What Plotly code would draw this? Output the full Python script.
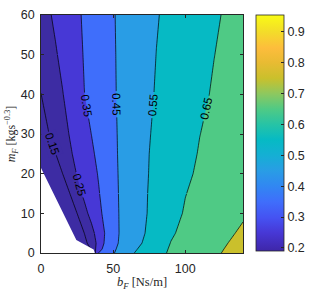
import math
import plotly.graph_objects as go

# ---- data ----
XS = [0, 5, 10, 15, 20, 25, 30, 35, 40, 45, 50, 55, 60, 65, 70, 75, 80, 90, 100, 110, 120, 130, 140]
YS = [0, 1, 2.5, 5, 10, 15, 20, 25, 30, 40, 50, 60]

Z_Y0   = [0.0, 0.0, 0.0, 0.0, 0.0, 0.0, 0.0, 0.13, 0.352, 0.397, 0.443, 0.481, 0.517, 0.552, 0.576, 0.600, 0.624, 0.661, 0.687, 0.712, 0.737, 0.763, 0.788]
Z_Y1   = [0.0, 0.0, 0.0, 0.0, 0.0, 0.0, 0.037, 0.163, 0.315, 0.388, 0.434, 0.472, 0.506, 0.540, 0.567, 0.592, 0.617, 0.658, 0.683, 0.708, 0.733, 0.758, 0.783]
Z_Y2_5 = [0.0, 0.0, 0.0, 0.0, 0.0, 0.047, 0.121, 0.194, 0.282, 0.374, 0.421, 0.462, 0.491, 0.521, 0.550, 0.576, 0.603, 0.652, 0.677, 0.702, 0.726, 0.751, 0.776]
Z_Y5   = [0.0, 0.0, 0.0, 0.0, 0.01, 0.079, 0.150, 0.221, 0.294, 0.362, 0.413, 0.458, 0.485, 0.512, 0.539, 0.565, 0.590, 0.641, 0.669, 0.692, 0.716, 0.739, 0.763]
Z_Y10  = [0.0, 0.0, 0.0, 0.01, 0.079, 0.150, 0.221, 0.280, 0.330, 0.376, 0.420, 0.458, 0.483, 0.508, 0.533, 0.557, 0.579, 0.622, 0.657, 0.678, 0.699, 0.720, 0.740]
Z_Y15  = [0.0, 0.0, 0.02, 0.083, 0.150, 0.217, 0.269, 0.307, 0.345, 0.385, 0.425, 0.459, 0.483, 0.507, 0.532, 0.555, 0.573, 0.611, 0.648, 0.669, 0.689, 0.708, 0.728]
Z_Y20  = [0.0, 0.042, 0.096, 0.150, 0.204, 0.255, 0.288, 0.322, 0.356, 0.392, 0.429, 0.460, 0.483, 0.507, 0.530, 0.552, 0.569, 0.603, 0.637, 0.661, 0.680, 0.699, 0.718]
Z_Y25  = [0.058, 0.103, 0.148, 0.193, 0.238, 0.274, 0.305, 0.337, 0.369, 0.401, 0.433, 0.461, 0.483, 0.505, 0.528, 0.550, 0.565, 0.596, 0.627, 0.655, 0.674, 0.693, 0.712]
Z_Y30  = [0.109, 0.146, 0.182, 0.219, 0.255, 0.287, 0.319, 0.351, 0.380, 0.408, 0.436, 0.461, 0.482, 0.504, 0.525, 0.547, 0.562, 0.591, 0.620, 0.649, 0.668, 0.687, 0.706]
Z_Y40  = [0.149, 0.182, 0.215, 0.247, 0.281, 0.315, 0.349, 0.372, 0.395, 0.418, 0.441, 0.462, 0.481, 0.500, 0.520, 0.539, 0.556, 0.582, 0.608, 0.634, 0.658, 0.677, 0.696]
Z_Y50  = [0.184, 0.213, 0.242, 0.271, 0.300, 0.328, 0.355, 0.377, 0.399, 0.421, 0.443, 0.462, 0.480, 0.498, 0.516, 0.533, 0.551, 0.575, 0.600, 0.625, 0.649, 0.669, 0.688]
Z_Y60  = [0.211, 0.239, 0.265, 0.289, 0.313, 0.337, 0.360, 0.381, 0.403, 0.424, 0.445, 0.463, 0.479, 0.496, 0.512, 0.529, 0.545, 0.570, 0.593, 0.617, 0.640, 0.661, 0.681]

Z = [Z_Y0, Z_Y1, Z_Y2_5, Z_Y5, Z_Y10, Z_Y15, Z_Y20, Z_Y25, Z_Y30, Z_Y40, Z_Y50, Z_Y60]

LEVELS = [0.15, 0.25, 0.35, 0.45, 0.55, 0.65, 0.75]
LEVEL_STEP = 0.1

# boundary of the infeasible (blank) region
MASK_X = [0, 0, 24.5, 36.5, 37.3]
MASK_Y = [0, 21.4, 3.3, 0.9, 0]

CMIN, CMAX = 0.19, 0.955
CBAR_TICKS = [0.2, 0.3, 0.4, 0.5, 0.6, 0.7, 0.8, 0.9]
X_TICKS = [0, 50, 100]
Y_TICKS = [0, 10, 20, 30, 40, 50, 60]

# ---- styles / layout ----
PARULA = [
    [0.0, '#3e26a8'], [0.078, '#4738d6'], [0.14, '#4552f2'], [0.209, '#3f6efb'],
    [0.275, '#3187f2'], [0.34, '#299de5'], [0.405, '#15afd4'], [0.471, '#06bac4'],
    [0.535, '#26c3a6'], [0.601, '#4fca85'], [0.665, '#8cc860'], [0.732, '#cac02c'],
    [0.80, '#e9bb33'], [0.86, '#fdbd3c'], [0.93, '#f3dd29'], [1.0, '#f9fb15'],
]
# fill colour below the first level, then above each level
BAND_COLORS = ['#3d2ca3', '#3d2ca3', '#4738d6', '#3f6efb', '#299de5', '#06bac4', '#4fca85', '#cac02c']
# how each level is labelled: ('auto', row window used by plotly's label placer),
# ('text', pair of rows between which the label is written), or None
LABEL_MODE = [('text', (7, 8)), ('auto', (3, 10)), ('auto', (5, 11)), ('auto', (5, 11)),
              ('auto', (5, 11)), ('auto', (5, 11)), None]

W, H = 309, 291
ML, MR, MT, MB = 41, 66, 15, 38
X_RANGE = [0, 140]
Y_RANGE = [0, 60]

AX = '#262626'
SANS = 'Liberation Sans'
SERIF = 'Liberation Serif'
LABEL_FONT = dict(family=SANS, size=11.5, color='black')


def step_scale(colors):
    n = len(colors) - 1
    out = []
    for k, c in enumerate(colors):
        out.append([max(0.0, (k - 0.5) / n), c])
        out.append([min(1.0, (k + 0.5) / n), c])
    return out


def line_piece(level, r0, r1, labels):
    return go.Contour(
        x=XS, y=YS[r0:r1 + 1], z=Z[r0:r1 + 1],
        contours=dict(start=level, end=level, size=LEVEL_STEP, coloring='none',
                      showlabels=labels, labelformat='.2f', labelfont=LABEL_FONT),
        line=dict(color='black', width=0.7, smoothing=0),
        showscale=False, hoverinfo='skip',
    )


def crossing(row, level):
    zr = Z[row]
    for i in range(len(XS) - 1):
        a, b = zr[i], zr[i + 1]
        if (a - level) * (b - level) <= 0 and a != b:
            return XS[i] + (level - a) / (b - a) * (XS[i + 1] - XS[i])
    return None


fig = go.Figure()
# filled bands
fig.add_trace(go.Contour(
    x=XS, y=YS, z=Z,
    contours=dict(start=LEVELS[0], end=LEVELS[-1], size=LEVEL_STEP, coloring='fill', showlines=False),
    line=dict(width=0, smoothing=0),
    colorscale=step_scale(BAND_COLORS), showscale=False, hoverinfo='skip',
))

last = len(YS) - 1
px_x = (W - ML - MR) / (X_RANGE[1] - X_RANGE[0])
px_y = (H - MT - MB) / (Y_RANGE[1] - Y_RANGE[0])
annotations = []
for k, (lvl, mode) in enumerate(zip(LEVELS, LABEL_MODE)):
    if mode is None or mode[0] == 'text':
        fig.add_trace(line_piece(lvl, 0, last, False))
        if mode is not None:
            ra, rb = mode[1]
            xa, xb = crossing(ra, lvl), crossing(rb, lvl)
            ang = math.degrees(math.atan2((YS[rb] - YS[ra]) * px_y, (xa - xb) * px_x))
            annotations.append(dict(
                x=(xa + xb) / 2, y=(YS[ra] + YS[rb]) / 2, xref='x', yref='y',
                text=f'{lvl:.2f}', showarrow=False, textangle=ang,
                font=LABEL_FONT, bgcolor=BAND_COLORS[k], borderpad=1,
            ))
        continue
    r0, r1 = mode[1]
    if r0 > 0:
        fig.add_trace(line_piece(lvl, 0, r0, False))
    fig.add_trace(line_piece(lvl, r0, r1, True))
    if r1 < last:
        fig.add_trace(line_piece(lvl, r1, last, False))

fig.add_trace(go.Scatter(
    x=MASK_X, y=MASK_Y, mode='lines', fill='toself', fillcolor='white',
    line=dict(width=0, color='white'), showlegend=False, hoverinfo='skip',
))
fig.add_trace(go.Scatter(
    x=[None], y=[None], mode='markers', showlegend=False, hoverinfo='skip',
    marker=dict(color=[CMIN], cmin=CMIN, cmax=CMAX, colorscale=PARULA, showscale=True,
                colorbar=dict(x=1.064, xanchor='left', y=1.0, yanchor='top', len=0.992,
                              thickness=28, xpad=0, ypad=0,
                              outlinewidth=0.8, outlinecolor=AX,
                              ticks='inside', ticklen=3, tickcolor=AX,
                              tickvals=CBAR_TICKS, tickformat='.1f',
                              tickfont=dict(family=SANS, size=12.5, color=AX))),
))

fig.update_layout(
    width=W, height=H,
    margin=dict(l=ML, r=MR, t=MT, b=MB, autoexpand=False),
    paper_bgcolor='white', plot_bgcolor='white',
    showlegend=False, annotations=annotations,
)
fig.update_xaxes(
    range=X_RANGE, tickvals=X_TICKS, ticks='inside', ticklen=3, tickcolor=AX,
    showline=True, linecolor=AX, linewidth=0.8, mirror='ticks', showgrid=False, zeroline=False,
    automargin=False, ticklabelstandoff=4,
    tickfont=dict(family=SANS, size=12.5, color=AX),
    title=dict(text='<i>b</i><sub><i>F</i></sub> [Ns/m]', font=dict(family=SERIF, size=12.5, color=AX), standoff=3),
)
fig.update_yaxes(
    range=Y_RANGE, tickvals=Y_TICKS, ticks='inside', ticklen=3, tickcolor=AX,
    showline=True, linecolor=AX, linewidth=0.8, mirror='ticks', showgrid=False, zeroline=False,
    automargin=False, ticklabelstandoff=3,
    tickfont=dict(family=SANS, size=12.5, color=AX),
    title=dict(text='<i>m</i><sub><i>F</i></sub> [kgs<sup>−0.3</sup>]', font=dict(family=SERIF, size=12, color=AX), standoff=2),
)

fig.write_html('out.html', config={'displayModeBar': False},
               post_script="document.body.style.margin='0';")
